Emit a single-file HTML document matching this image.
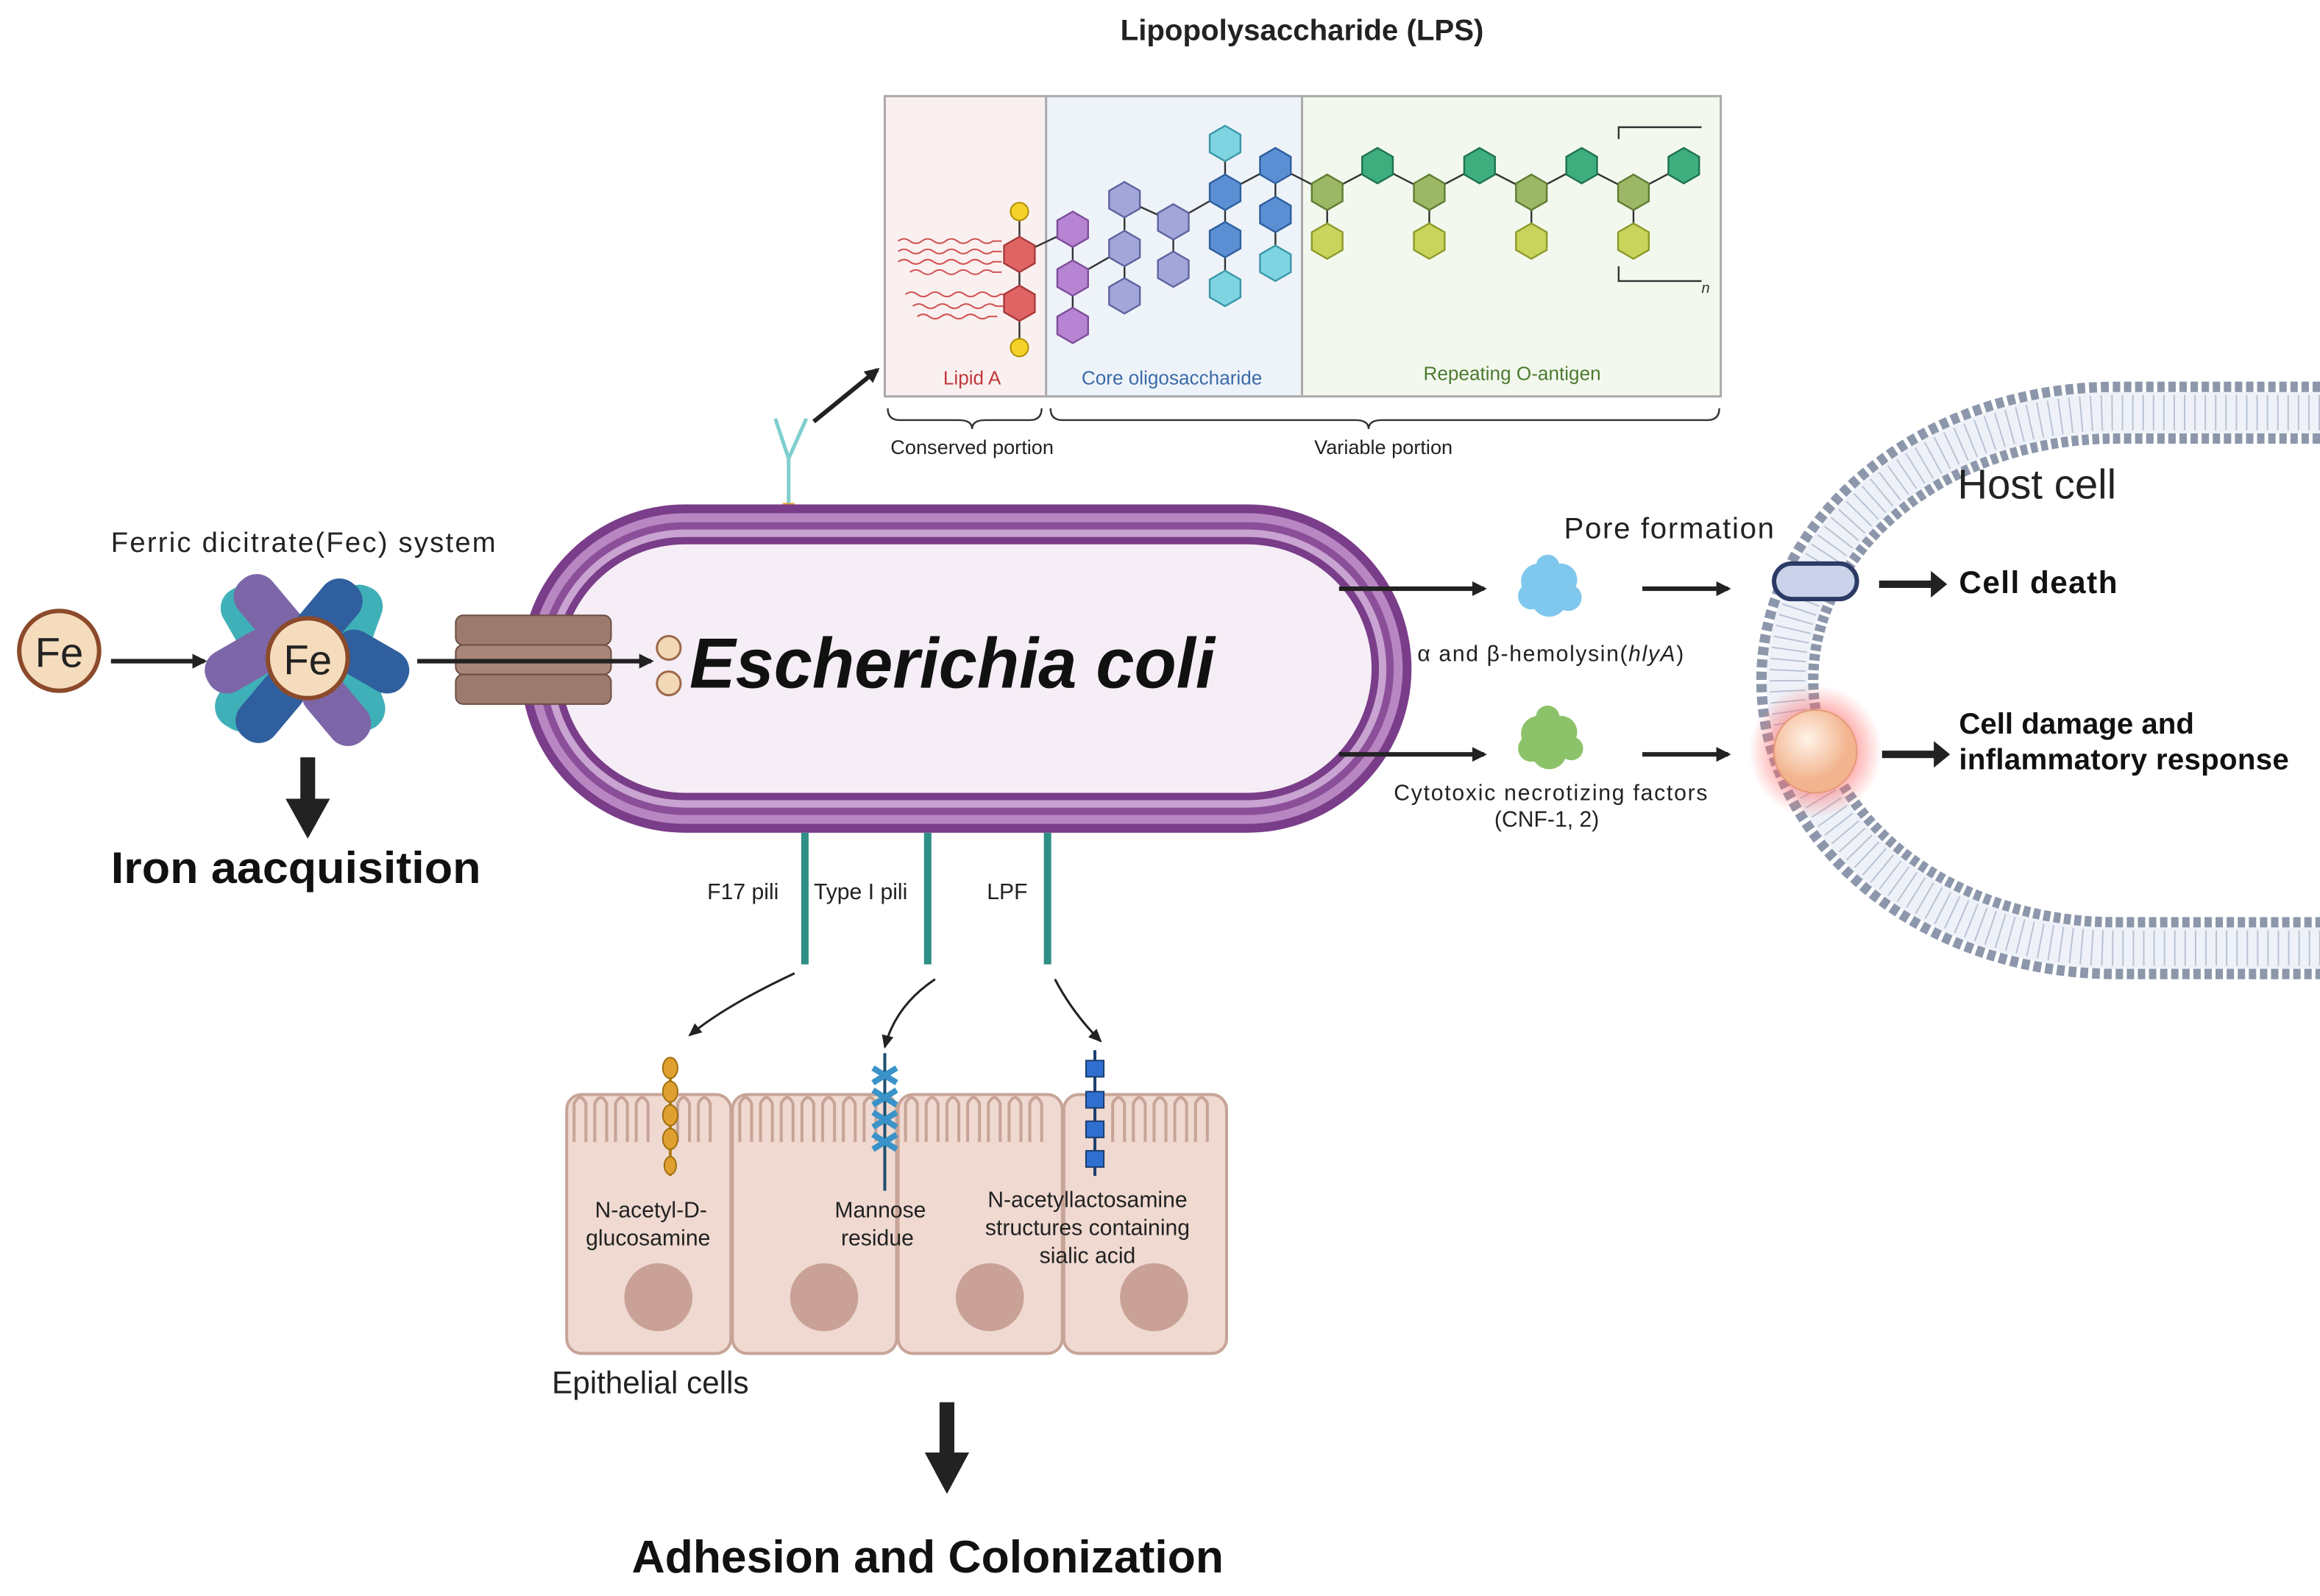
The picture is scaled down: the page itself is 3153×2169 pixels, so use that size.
<!DOCTYPE html>
<html><head><meta charset="utf-8"><style>
html,body{margin:0;padding:0;background:#fff;}
svg{display:block;font-family:"Liberation Sans",sans-serif;}
</style></head><body>
<svg width="3153" height="2169" viewBox="0 0 1568 1079" preserveAspectRatio="none" xmlns="http://www.w3.org/2000/svg">
<defs>
<polygon id="hx" points="0,-12 10.4,-6 10.4,6 0,12 -10.4,6 -10.4,-6" stroke-width="1.2"/>
<marker id="ah" markerWidth="10" markerHeight="10" refX="8" refY="5" orient="auto" markerUnits="userSpaceOnUse"><path d="M0,0 L10,5 L0,10 z" fill="#222"/></marker>
<marker id="ahs" markerWidth="10" markerHeight="10" refX="8" refY="5" orient="auto" markerUnits="userSpaceOnUse"><path d="M0,1 L9,5 L0,9 z" fill="#222"/></marker>
<radialGradient id="glow"><stop offset="0.55" stop-color="#ff6a6a" stop-opacity="0.6"/><stop offset="1" stop-color="#ff6a6a" stop-opacity="0"/></radialGradient>
<radialGradient id="ball" cx="0.4" cy="0.35"><stop offset="0" stop-color="#fff3e8"/><stop offset="1" stop-color="#f2b48e"/></radialGradient>
</defs>

<!-- LPS -->
<text x="880" y="27" font-size="20" font-weight="bold" text-anchor="middle" fill="#222">Lipopolysaccharide (LPS)</text>
<rect x="598" y="65" width="109" height="203" fill="#fbf0f0"/>
<rect x="707" y="65" width="173" height="203" fill="#eef3f9"/>
<rect x="880" y="65" width="283" height="203" fill="#f3f8ee"/>
<rect x="598" y="65" width="565" height="203" fill="none" stroke="#aaa" stroke-width="1.5"/>
<line x1="707" y1="65" x2="707" y2="268" stroke="#aaa" stroke-width="1.5"/>
<line x1="880" y1="65" x2="880" y2="268" stroke="#aaa" stroke-width="1.5"/>
<text x="657" y="260" font-size="13" fill="#c0393b" text-anchor="middle">Lipid A</text>
<text x="792" y="260" font-size="13" fill="#3b6aa8" text-anchor="middle">Core oligosaccharide</text>
<text x="1022" y="257" font-size="13" fill="#4c7a30" text-anchor="middle">Repeating O-antigen</text>
<g stroke="#d05050" stroke-width="1" fill="none">
<path d="M607,163 q4,-3 8,0 t8,0 t8,0 t8,0 t8,0 t8,0 t8,0 t8,0 l6,0"/>
<path d="M607,170 q4,-3 8,0 t8,0 t8,0 t8,0 t8,0 t8,0 t8,0 t8,0 l6,0"/>
<path d="M607,177 q4,-3 8,0 t8,0 t8,0 t8,0 t8,0 t8,0 t8,0 t8,0 l6,0"/>
<path d="M615,184 q4,-3 8,0 t8,0 t8,0 t8,0 t8,0 t8,0 t8,0 l6,0"/>
<path d="M612,199 q4,-3 8,0 t8,0 t8,0 t8,0 t8,0 t8,0 t8,0 t8,0 l6,0"/>
<path d="M617,207 q4,-3 8,0 t8,0 t8,0 t8,0 t8,0 t8,0 t8,0 l6,0"/>
<path d="M620,214 q4,-3 8,0 t8,0 t8,0 t8,0 t8,0 t8,0 l6,0"/>
</g>
<g stroke="#333" stroke-width="1.2" fill="none">
<path d="M689,143 V235 M689,172 L725,155 M725,155 V220 M725,188 L760,168 M760,135 V200 M760,135 L793,150 V182 M793,150 L828,130 M828,97 V195 M828,130 L862,112 V178 M862,112 L897,130 L931,112 L966,130 L1000,112 L1035,130 L1069,112 L1104,130 L1138,112 M897,130 V163 M966,130 V163 M1035,130 V163 M1104,130 V163"/>
</g>
<g fill="#e06464" stroke="#a83a3a"><use href="#hx" x="689" y="172"/><use href="#hx" x="689" y="205"/></g>
<circle cx="689" cy="143" r="6" fill="#f5d22b" stroke="#b08f00"/><circle cx="689" cy="235" r="6" fill="#f5d22b" stroke="#b08f00"/>
<g fill="#b783d3" stroke="#7d4e9a"><use href="#hx" x="725" y="155"/><use href="#hx" x="725" y="188"/><use href="#hx" x="725" y="220"/></g>
<g fill="#a2a6d8" stroke="#5f63a0"><use href="#hx" x="760" y="135"/><use href="#hx" x="760" y="168"/><use href="#hx" x="760" y="200"/><use href="#hx" x="793" y="150"/><use href="#hx" x="793" y="182"/></g>
<g fill="#5b8fd3" stroke="#2f5f9e"><use href="#hx" x="828" y="130"/><use href="#hx" x="828" y="162"/><use href="#hx" x="862" y="112"/><use href="#hx" x="862" y="145"/></g>
<g fill="#7fd4e2" stroke="#3a98a8"><use href="#hx" x="828" y="97"/><use href="#hx" x="828" y="195"/><use href="#hx" x="862" y="178"/></g>
<g fill="#9cb866" stroke="#5f7d34"><use href="#hx" x="897" y="130"/><use href="#hx" x="966" y="130"/><use href="#hx" x="1035" y="130"/><use href="#hx" x="1104" y="130"/></g>
<g fill="#c9d45c" stroke="#8d9a2a"><use href="#hx" x="897" y="163"/><use href="#hx" x="966" y="163"/><use href="#hx" x="1035" y="163"/><use href="#hx" x="1104" y="163"/></g>
<g fill="#3fae7e" stroke="#1f7350"><use href="#hx" x="931" y="112"/><use href="#hx" x="1000" y="112"/><use href="#hx" x="1069" y="112"/><use href="#hx" x="1138" y="112"/></g>
<path d="M1094,94 V86 H1150 M1094,180 V190 H1150" stroke="#333" fill="none" stroke-width="1.2"/>
<text x="1150" y="198" font-size="10" font-style="italic" fill="#333">n</text>
<path d="M600,276 q0,8 8,8 h40 q9,0 9,6 q0,-6 9,-6 h30 q8,0 8,-8" stroke="#333" fill="none" stroke-width="1.2"/>
<path d="M710,276 q0,8 8,8 h198 q9,0 9,6 q0,-6 9,-6 h220 q8,0 8,-8" stroke="#333" fill="none" stroke-width="1.2"/>
<text x="657" y="307" font-size="13.5" text-anchor="middle" fill="#222">Conserved portion</text>
<text x="935" y="307" font-size="13.5" text-anchor="middle" fill="#222">Variable portion</text>
<line x1="550" y1="285" x2="593" y2="250" stroke="#222" stroke-width="3" marker-end="url(#ah)"/>
<path d="M533,342 V310 M533,310 L524,283 M533,310 L545,283" stroke="#7fcfcf" stroke-width="2.5" fill="none"/>
<rect x="529" y="340" width="8" height="9" fill="#e8a33a"/>

<!-- E. coli -->
<rect x="352" y="341" width="602" height="222" rx="111" fill="#7a3d89"/>
<rect x="358" y="347" width="590" height="210" rx="105" fill="#b887c2"/>
<rect x="364" y="353" width="578" height="198" rx="99" fill="#8b4f99"/>
<rect x="369" y="358" width="568" height="188" rx="94" fill="#c9a3d1"/>
<rect x="374" y="363" width="558" height="178" rx="89" fill="#7a3d89"/>
<rect x="379" y="368" width="548" height="168" rx="84" fill="#f6eef6"/>
<text x="466" y="465" font-size="48" font-weight="bold" font-style="italic" fill="#111" textLength="355" lengthAdjust="spacingAndGlyphs">Escherichia coli</text>
<rect x="308" y="416" width="105" height="20" rx="5" fill="#9c7b6e" stroke="#6c4f44"/>
<rect x="308" y="436" width="105" height="20" rx="5" fill="#a8877a" stroke="#6c4f44"/>
<rect x="308" y="456" width="105" height="20" rx="5" fill="#9c7b6e" stroke="#6c4f44"/>
<line x1="282" y1="447" x2="440" y2="447" stroke="#222" stroke-width="3" marker-end="url(#ah)"/>
<circle cx="452" cy="438" r="8" fill="#f3d8b8" stroke="#9b6a4a" stroke-width="1.5"/>
<circle cx="452" cy="462" r="8" fill="#f3d8b8" stroke="#9b6a4a" stroke-width="1.5"/>

<!-- Fe -->
<text x="75" y="373" font-size="19" fill="#222" textLength="260">Ferric dicitrate(Fec) system</text>
<circle cx="40" cy="440" r="27" fill="#f5dcbc" stroke="#8b4a2a" stroke-width="3"/>
<text x="40" y="451" font-size="28" text-anchor="middle" fill="#222">Fe</text>
<line x1="75" y1="447" x2="138" y2="447" stroke="#222" stroke-width="3" marker-end="url(#ah)"/>
<g>
<rect x="155" y="395" width="30" height="52" rx="14" fill="#3fb0b8" transform="rotate(-30 170 421)"/>
<rect x="225" y="395" width="30" height="55" rx="14" fill="#3fb0b8" transform="rotate(20 240 420)"/>
<rect x="150" y="445" width="34" height="50" rx="15" fill="#3fb0b8" transform="rotate(30 167 470)"/>
<rect x="225" y="445" width="32" height="50" rx="15" fill="#3fb0b8" transform="rotate(-20 241 470)"/>
<rect x="168" y="385" width="30" height="60" rx="14" fill="#7d66a8" transform="rotate(-40 183 415)"/>
<rect x="205" y="388" width="30" height="60" rx="14" fill="#2f5f9e" transform="rotate(40 220 418)"/>
<rect x="150" y="420" width="30" height="55" rx="14" fill="#7d66a8" transform="rotate(60 165 447)"/>
<rect x="235" y="420" width="30" height="55" rx="14" fill="#2f5f9e" transform="rotate(-60 250 447)"/>
<rect x="168" y="450" width="30" height="55" rx="14" fill="#2f5f9e" transform="rotate(40 183 477)"/>
<rect x="212" y="452" width="30" height="55" rx="14" fill="#7d66a8" transform="rotate(-40 227 479)"/>
</g>
<circle cx="208" cy="445" r="27" fill="#f5dcbc" stroke="#8b4a2a" stroke-width="3"/>
<text x="208" y="456" font-size="28" text-anchor="middle" fill="#222">Fe</text>
<rect x="203" y="512" width="10" height="30" fill="#222"/><path d="M193,540 L223,540 L208,567 z" fill="#222"/>
<text x="75" y="597" font-size="30" font-weight="bold" fill="#111" textLength="250" lengthAdjust="spacingAndGlyphs">Iron aacquisition</text>

<!-- pili -->
<g stroke="#2f8f86" stroke-width="5"><line x1="544" y1="563" x2="544" y2="652"/><line x1="627" y1="563" x2="627" y2="652"/><line x1="708" y1="563" x2="708" y2="652"/></g>
<text x="478" y="608" font-size="15" fill="#222">F17 pili</text>
<text x="550" y="608" font-size="15" fill="#222">Type I pili</text>
<text x="667" y="608" font-size="15" fill="#222">LPF</text>
<g fill="none" stroke="#222" stroke-width="1.5">
<path d="M537,658 Q490,680 466,700" marker-end="url(#ahs)"/>
<path d="M632,662 Q605,680 598,708" marker-end="url(#ahs)"/>
<path d="M713,662 Q725,685 744,704" marker-end="url(#ahs)"/>
</g>

<!-- epithelial cells -->
<g fill="#efd9d1" stroke="#c7a497" stroke-width="2">
<rect x="383" y="740" width="111" height="175" rx="10"/>
<rect x="495" y="740" width="111" height="175" rx="10"/>
<rect x="607" y="740" width="111" height="175" rx="10"/>
<rect x="719" y="740" width="110" height="175" rx="10"/>
</g>
<g fill="none" stroke="#c7a497" stroke-width="2">
<path d="M388,772 V746 q4,-8 8,0 V772 M402,772 V746 q4,-8 8,0 V772 M416,772 V746 q4,-8 8,0 V772 M430,772 V746 q4,-8 8,0 V772 M458,772 V746 q4,-8 8,0 V772 M472,772 V746 q4,-8 8,0 V772"/>
<path d="M500,772 V746 q4,-8 8,0 V772 M514,772 V746 q4,-8 8,0 V772 M528,772 V746 q4,-8 8,0 V772 M542,772 V746 q4,-8 8,0 V772 M556,772 V746 q4,-8 8,0 V772 M570,772 V746 q4,-8 8,0 V772 M584,772 V746 q4,-8 8,0 V772"/>
<path d="M612,772 V746 q4,-8 8,0 V772 M626,772 V746 q4,-8 8,0 V772 M640,772 V746 q4,-8 8,0 V772 M654,772 V746 q4,-8 8,0 V772 M668,772 V746 q4,-8 8,0 V772 M682,772 V746 q4,-8 8,0 V772 M696,772 V746 q4,-8 8,0 V772"/>
<path d="M752,772 V746 q4,-8 8,0 V772 M766,772 V746 q4,-8 8,0 V772 M780,772 V746 q4,-8 8,0 V772 M794,772 V746 q4,-8 8,0 V772 M808,772 V746 q4,-8 8,0 V772"/>
</g>
<g fill="#c9a196"><circle cx="445" cy="877" r="23"/><circle cx="557" cy="877" r="23"/><circle cx="669" cy="877" r="23"/><circle cx="780" cy="877" r="23"/></g>
<line x1="453" y1="715" x2="453" y2="795" stroke="#b07b1a" stroke-width="2"/>
<g fill="#e0a030" stroke="#a07010"><ellipse cx="453" cy="722" rx="5" ry="7"/><ellipse cx="453" cy="738" rx="5" ry="7"/><ellipse cx="453" cy="754" rx="5" ry="7"/><ellipse cx="453" cy="770" rx="5" ry="7"/><ellipse cx="453" cy="788" rx="4" ry="6"/></g>
<line x1="598" y1="712" x2="598" y2="805" stroke="#1d4f6e" stroke-width="2"/>
<g stroke="#3a93c8" stroke-width="4"><path d="M590,722 L606,732 M606,722 L590,732 M590,737 L606,747 M606,737 L590,747 M590,752 L606,762 M606,752 L590,762 M590,767 L606,777 M606,767 L590,777"/></g>
<line x1="740" y1="710" x2="740" y2="795" stroke="#1d3f6e" stroke-width="2"/>
<g fill="#2f6fd0" stroke="#1d3f6e"><rect x="734" y="717" width="12" height="11"/><rect x="734" y="738" width="12" height="11"/><rect x="734" y="758" width="12" height="11"/><rect x="734" y="778" width="12" height="11"/></g>
<g font-size="15" fill="#222" text-anchor="middle">
<text x="440" y="823">N-acetyl-D-</text><text x="438" y="842">glucosamine</text>
<text x="595" y="823">Mannose</text><text x="593" y="842">residue</text>
<text x="735" y="816">N-acetyllactosamine</text><text x="735" y="835">structures containing</text><text x="735" y="854">sialic acid</text>
</g>
<text x="373" y="942" font-size="21" fill="#222">Epithelial cells</text>
<rect x="635" y="948" width="10" height="36" fill="#222"/><path d="M625,982 L655,982 L640,1010 z" fill="#222"/>
<text x="427" y="1063" font-size="31" font-weight="bold" fill="#111" textLength="400" lengthAdjust="spacingAndGlyphs">Adhesion and Colonization</text>

<!-- right side -->
<line x1="905" y1="398" x2="1003" y2="398" stroke="#222" stroke-width="3" marker-end="url(#ah)"/>
<line x1="905" y1="510" x2="1003" y2="510" stroke="#222" stroke-width="3" marker-end="url(#ah)"/>
<line x1="1110" y1="398" x2="1168" y2="398" stroke="#222" stroke-width="3" marker-end="url(#ah)"/>
<line x1="1110" y1="510" x2="1168" y2="510" stroke="#222" stroke-width="3" marker-end="url(#ah)"/>
<g fill="#7fc7ec"><circle cx="1040" cy="393" r="12"/><circle cx="1055" cy="392" r="11"/><circle cx="1047" cy="405" r="12"/><circle cx="1035" cy="403" r="9"/><circle cx="1060" cy="404" r="9"/><circle cx="1046" cy="383" r="8"/></g>
<g fill="#8cc26a"><circle cx="1040" cy="496" r="12"/><circle cx="1055" cy="495" r="11"/><circle cx="1047" cy="508" r="12"/><circle cx="1035" cy="506" r="9"/><circle cx="1062" cy="506" r="8"/><circle cx="1046" cy="485" r="8"/></g>
<text x="1057" y="364" font-size="20" fill="#222" textLength="142">Pore formation</text>
<text x="958" y="447" font-size="15" fill="#222" textLength="180">α and β-hemolysin(<tspan font-style="italic">hlyA</tspan>)</text>
<text x="942" y="541" font-size="15" fill="#222" textLength="212">Cytotoxic necrotizing factors</text>
<text x="1010" y="559" font-size="15" fill="#222">(CNF-1, 2)</text>

<!-- host membrane -->
<path id="mem" d="M1568,279 L1430,279 A222,181 0 0 0 1430,641 L1568,641" fill="none" stroke="#8d97ab" stroke-width="42" stroke-dasharray="5 2.5"/>
<path d="M1568,279 L1430,279 A222,181 0 0 0 1430,641 L1568,641" fill="none" stroke="#eef2f8" stroke-width="28"/>
<path d="M1568,279 L1430,279 A222,181 0 0 0 1430,641 L1568,641" fill="none" stroke="#b9c3d4" stroke-width="24" stroke-dasharray="1 6"/>
<rect x="1199" y="381" width="56" height="24" rx="12" fill="#c9d2e8" stroke="#2c3a66" stroke-width="3"/>
<circle cx="1227" cy="508" r="45" fill="url(#glow)"/>
<circle cx="1227" cy="508" r="28" fill="url(#ball)" stroke="#e59a78"/>
<text x="1323" y="337" font-size="28" fill="#222">Host cell</text>
<line x1="1270" y1="395" x2="1310" y2="395" stroke="#222" stroke-width="5"/><path d="M1305,386 L1316,395 L1305,404 z" fill="#222"/>
<line x1="1272" y1="510" x2="1312" y2="510" stroke="#222" stroke-width="5"/><path d="M1307,501 L1318,510 L1307,519 z" fill="#222"/>
<text x="1324" y="401" font-size="21" font-weight="bold" fill="#111" textLength="107">Cell death</text>
<text x="1324" y="496" font-size="20" font-weight="bold" fill="#111">Cell damage and</text>
<text x="1324" y="520" font-size="20" font-weight="bold" fill="#111" textLength="223">inflammatory response</text>
</svg>
</body></html>
